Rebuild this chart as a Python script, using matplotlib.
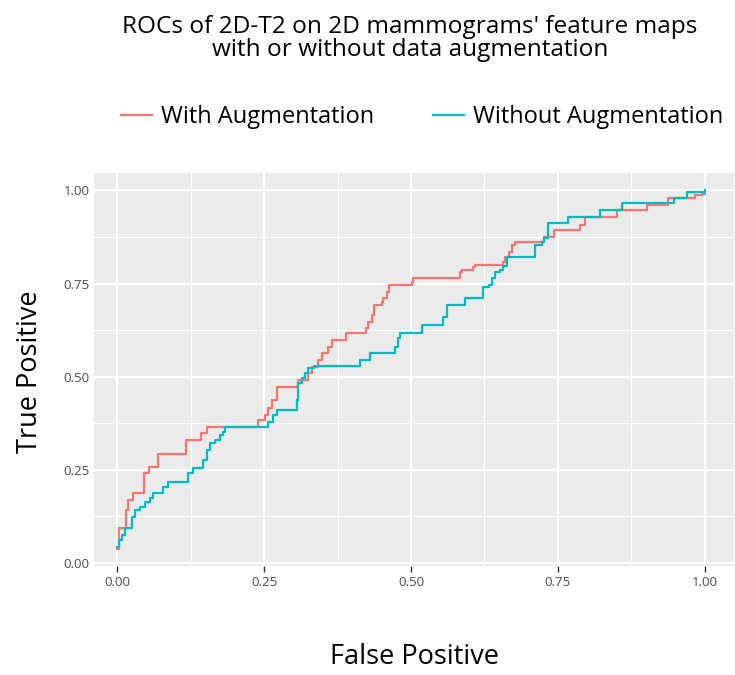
"""ROC curves of 2D-T2 on 2D mammograms' feature maps, ggplot-like styling."""

import matplotlib
matplotlib.use("Agg")
import matplotlib.pyplot as plt
import numpy as np

# ROC step curves (x = start of each horizontal level, y = level)
fpr_with = [0.000, 0.003, 0.015, 0.018, 0.027, 0.045, 0.053, 0.069, 0.116, 0.143,
            0.152, 0.240, 0.251, 0.257, 0.263, 0.271, 0.308, 0.325, 0.331, 0.342,
            0.348, 0.359, 0.365, 0.390, 0.424, 0.427, 0.433, 0.437, 0.450, 0.453,
            0.459, 0.463, 0.501, 0.504, 0.584, 0.586, 0.606, 0.609, 0.657, 0.660,
            0.666, 0.672, 0.677, 0.726, 0.743, 0.787, 0.797, 0.850, 0.901, 0.938,
            0.984, 0.996, 1.000]
tpr_with = [0.039, 0.093, 0.142, 0.169, 0.187, 0.241, 0.259, 0.294, 0.330, 0.348,
            0.366, 0.384, 0.397, 0.415, 0.438, 0.473, 0.491, 0.509, 0.527, 0.545,
            0.563, 0.581, 0.599, 0.617, 0.630, 0.648, 0.666, 0.693, 0.702, 0.711,
            0.728, 0.746, 0.755, 0.764, 0.782, 0.787, 0.795, 0.800, 0.809, 0.822,
            0.836, 0.854, 0.863, 0.876, 0.894, 0.907, 0.930, 0.948, 0.961, 0.979,
            0.988, 0.990, 0.990]

fpr_without = [0.000, 0.002, 0.007, 0.012, 0.024, 0.030, 0.038, 0.047, 0.055, 0.061,
               0.077, 0.086, 0.120, 0.129, 0.146, 0.152, 0.157, 0.166, 0.174, 0.180,
               0.183, 0.257, 0.265, 0.271, 0.305, 0.308, 0.314, 0.319, 0.325, 0.334,
               0.413, 0.430, 0.473, 0.478, 0.481, 0.518, 0.555, 0.561, 0.592, 0.623,
               0.632, 0.637, 0.643, 0.652, 0.657, 0.663, 0.711, 0.723, 0.726, 0.734,
               0.768, 0.822, 0.859, 0.947, 0.970, 1.000]
tpr_without = [0.044, 0.062, 0.075, 0.093, 0.124, 0.142, 0.151, 0.165, 0.174, 0.187,
               0.205, 0.218, 0.241, 0.254, 0.277, 0.303, 0.321, 0.330, 0.344, 0.353,
               0.366, 0.379, 0.397, 0.411, 0.438, 0.482, 0.496, 0.509, 0.523, 0.529,
               0.545, 0.565, 0.581, 0.603, 0.618, 0.639, 0.661, 0.693, 0.711, 0.742,
               0.746, 0.764, 0.782, 0.787, 0.796, 0.821, 0.854, 0.863, 0.872, 0.912,
               0.930, 0.948, 0.966, 0.979, 0.997, 1.000]

series_labels = ["With Augmentation", "Without Augmentation"]
series_colors = ["#F8766D", "#00BFC4"]
tick_values = [0.0, 0.25, 0.5, 0.75, 1.0]
tick_labels = ["0.00", "0.25", "0.50", "0.75", "1.00"]

plt.rcParams["font.family"] = ["Open Sans", "DejaVu Sans"]

W, H = 735, 675
fig = plt.figure(figsize=(W / 100, H / 100), dpi=100)

# panel position in pixels
left, right, top, bottom = 94, 734, 172.6, 566.4
ax = fig.add_axes([left / W, 1 - bottom / H, (right - left) / W, (bottom - top) / H])
ax.set_facecolor("#EBEBEB")
for spine in ax.spines.values():
    spine.set_visible(False)

ax.set_xlim(-0.04, 1.05)
ax.set_ylim(-0.009, 1.048)
ax.set_xticks(tick_values)
ax.set_xticklabels(tick_labels)
ax.set_yticks(tick_values)
ax.set_yticklabels(tick_labels)
ax.set_xticks([0.125, 0.375, 0.625, 0.875], minor=True)
ax.set_yticks([0.125, 0.375, 0.625, 0.875], minor=True)
ax.grid(which="major", color="white", linewidth=1.6)
ax.grid(which="minor", color="white", linewidth=0.8)
ax.set_axisbelow(True)
ax.tick_params(which="major", labelsize=9.5, labelcolor="#4D4D4D")
ax.tick_params(axis="x", which="major", length=4, width=1.0, color="#333333", pad=3)
ax.tick_params(axis="y", which="major", length=0, pad=3)
ax.tick_params(which="minor", length=0)

for fpr, tpr, lab, col in [(fpr_with, tpr_with, series_labels[0], series_colors[0]),
                           (fpr_without, tpr_without, series_labels[1], series_colors[1])]:
    ax.plot(fpr, tpr, drawstyle="steps-post", color=col, linewidth=1.6, label=lab)

fig.text(414 / W, 1 - 657 / H, "False Positive", ha="center", va="center", fontsize=19.5)
fig.text(30 / W, 1 - 372 / H, "True Positive", ha="center", va="center",
         rotation=90, fontsize=19.5)

fig.text(410 / W, 1 - 27 / H, "ROCs of 2D-T2 on 2D mammograms' feature maps",
         ha="center", va="center", fontsize=17.6)
fig.text(410 / W, 1 - 50 / H, "with or without data augmentation",
         ha="center", va="center", fontsize=17.6)

handles, labels = ax.get_legend_handles_labels()
fig.legend(handles, labels, loc="center", bbox_to_anchor=(422 / W, 1 - 117 / H),
           ncol=2, frameon=False, fontsize=17, handlelength=1.3,
           handletextpad=0.38, columnspacing=2.5)

fig.savefig("out.png", dpi=100)
